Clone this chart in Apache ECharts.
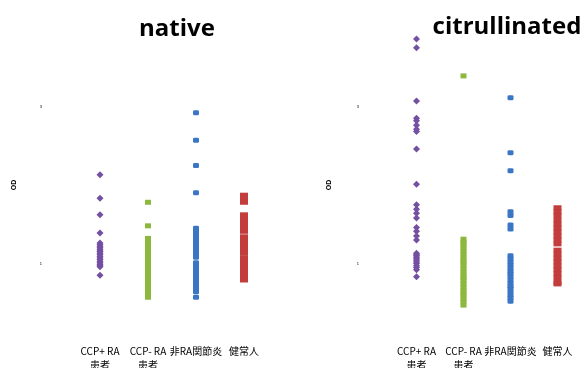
<!DOCTYPE html>
<html>
<head>
<meta charset="utf-8">
<script src="https://cdn.jsdelivr.net/npm/echarts@6/dist/echarts.min.js"></script>
<style>
  html, body { margin: 0; padding: 0; background: #fff; }
  #chart { width: 584px; height: 368px; }
</style>
</head>
<body>
<div id="chart"></div>
<script>
// categories (same four groups in both panels)
const categories = ["CCP+ RA\n患者", "CCP- RA\n患者", "非RA関節炎", "健常人"];
const panelTitles = ["native", "citrullinated"];
const yTicksShown = [1, 3];

// native antigen
const nativePurple = [2.13, 1.83, 1.62, 1.39, 1.26, 1.24, 1.22, 1.20, 1.18, 1.16, 1.15, 1.13, 1.11, 1.09,
  1.07, 1.05, 1.03, 1.01, 0.99, 0.97, 0.96, 0.85];
const nativeGreen = [1.78, 1.48, 1.32, 1.29, 1.25, 1.21, 1.17, 1.13, 1.10, 1.06, 1.02, 0.98, 0.94, 0.90,
  0.87, 0.83, 0.79, 0.75, 0.71, 0.68, 0.64, 0.60, 0.57];
const nativeBlue = [2.92, 2.57, 2.25, 1.90, 1.45, 1.41, 1.38, 1.34, 1.30, 1.26, 1.22, 1.18, 1.15, 1.11, 1.08,
  1.01, 0.97, 0.93, 0.89, 0.85, 0.82, 0.78, 0.74, 0.70, 0.66, 0.64, 0.57];
const nativeRed = [1.87, 1.83, 1.78, 1.62, 1.57, 1.52, 1.46, 1.41, 1.34, 1.29, 1.24, 1.18, 1.13,
  1.07, 1.02, 0.97, 0.92, 0.87, 0.82, 0.79];

// citrullinated antigen
const citPurple = [3.86, 3.75, 3.07, 2.85, 2.82, 2.76, 2.71, 2.68, 2.46, 2.01, 1.75, 1.69, 1.64, 1.58,
  1.46, 1.41, 1.35, 1.30, 1.13, 1.11, 1.10, 1.08, 1.06, 1.04, 1.02, 1.00, 0.97, 0.95, 0.92, 0.83];
const citGreen = [3.39, 1.31, 1.27, 1.24, 1.20, 1.16, 1.12, 1.08, 1.04, 1.01, 0.97, 0.93, 0.89, 0.85, 0.82,
  0.78, 0.74, 0.70, 0.66, 0.62, 0.59, 0.55, 0.51, 0.47];
const citBlue = [3.11, 2.41, 2.18, 1.66, 1.61, 1.49, 1.44, 1.10, 1.06, 1.02, 0.98, 0.94, 0.90, 0.87, 0.83,
  0.79, 0.75, 0.71, 0.68, 0.64, 0.60, 0.56, 0.52];
const citRed = [1.71, 1.66, 1.61, 1.55, 1.50, 1.45, 1.40, 1.35, 1.30, 1.25, 1.17, 1.12, 1.07, 1.02, 0.97,
  0.92, 0.87, 0.82, 0.76, 0.74];

const panels = [
  { groups: [nativePurple, nativeGreen, nativeBlue, nativeRed], grid: { left: 76, width: 192 } },
  { groups: [citPurple, citGreen, citBlue, citRed], grid: { left: 393, width: 188 } },
];

const groupStyle = [
  { color: "#7350a2", symbol: "diamond", size: 7 },
  { color: "#8cb83e", symbol: "rect", size: [6, 5] },
  { color: "#3b76c5", symbol: "roundRect", size: [6, 5] },
  { color: "#c23d3b", symbol: "rect", size: [8, 5] },
];

const chart = echarts.init(document.getElementById("chart"));

const grids = panels.map((p) => ({ ...p.grid, top: 28, bottom: 26, outerBoundsMode: "none" }));

const xAxes = panels.map((p, i) => ({
  type: "category",
  gridIndex: i,
  data: categories,
  axisLine: { show: false },
  axisTick: { show: false },
  axisLabel: {
    interval: 0,
    margin: 2,
    color: "#000",
    fontSize: 10,
    lineHeight: 14,
    fontFamily: "Noto Sans CJK JP",
  },
}));

const yAxes = panels.map((p, i) => ({
  type: "value",
  gridIndex: i,
  min: 0,
  max: 4,
  interval: 1,
  name: "OD",
  nameLocation: "middle",
  nameGap: i === 0 ? 58 : 60,
  nameTextStyle: { fontSize: 7, fontWeight: "bold", color: "#000" },
  axisLine: { show: false },
  axisTick: { show: false },
  splitLine: { show: false },
  axisLabel: {
    margin: 34,
    fontSize: 4,
    color: "#000",
    formatter: (v) => (yTicksShown.includes(v) ? String(v) : ""),
  },
}));

const series = [];
panels.forEach((p, i) => {
  p.groups.forEach((vals, g) => {
    series.push({
      type: "scatter",
      xAxisIndex: i,
      yAxisIndex: i,
      symbol: groupStyle[g].symbol,
      symbolSize: groupStyle[g].size,
      itemStyle: { color: groupStyle[g].color, opacity: 1 },
      data: vals.map((v) => [g, v]),
    });
  });
});

chart.setOption({
  backgroundColor: "#fff",
  animation: false,
  title: [
    { text: panelTitles[0], left: 172, top: 12, textAlign: "center",
      textStyle: { fontSize: 24, fontWeight: "bold", fontFamily: "Open Sans", color: "#000" } },
    { text: panelTitles[1], left: 502, top: 10, textAlign: "center",
      textStyle: { fontSize: 24, fontWeight: "bold", fontFamily: "Open Sans", color: "#000" } },
  ],
  grid: grids,
  xAxis: xAxes,
  yAxis: yAxes,
  series,
});
</script>
</body>
</html>
